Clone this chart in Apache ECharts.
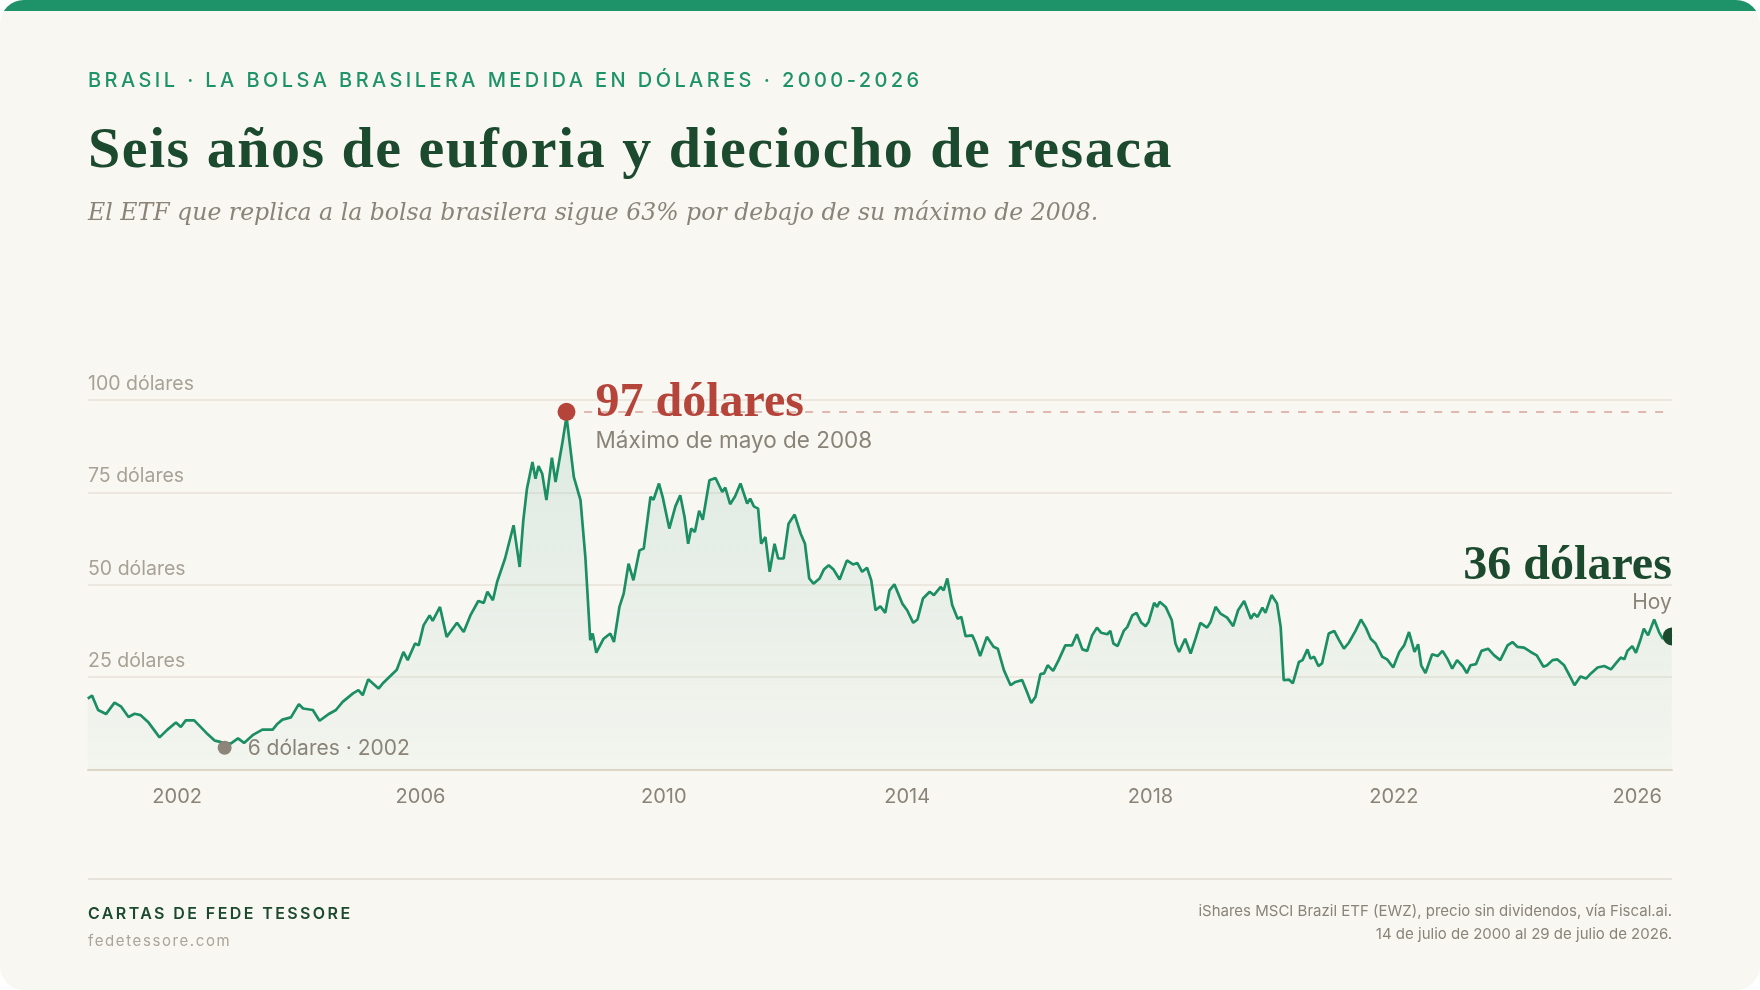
<!DOCTYPE html>
<html lang="es">
<head>
<meta charset="utf-8">
<title>Seis años de euforia y dieciocho de resaca</title>
<script src="https://cdn.jsdelivr.net/npm/echarts@6/dist/echarts.min.js"></script>
<style>
  html, body { margin: 0; padding: 0; background: #ffffff; }
  #card { position: relative; width: 1760px; height: 990px; background: #f8f7f2; border-radius: 24px; overflow: hidden; font-family: Inter, "Noto Sans", sans-serif; }
  #barra { position: absolute; left: 0; top: 0; width: 100%; height: 11px; background: #1e936a; }
  #chart { position: absolute; left: 0; top: 0; width: 1760px; height: 990px; }
  .txt { position: absolute; white-space: nowrap; line-height: 1; }
  #kicker { left: 88px; top: 70px; font-size: 20px; font-weight: 500; letter-spacing: 3.42px; color: #1e936a; }
  #titulo { left: 88px; top: 119px; font-family: "Liberation Serif", serif; font-weight: 700; font-size: 58px; letter-spacing: 1.5px; color: #1b4a2e; }
  #bajada { left: 88px; top: 201px; font-family: "DejaVu Serif", serif; font-style: italic; font-size: 23.6px; color: #8a8478; }
  #linea { position: absolute; left: 88px; top: 878px; width: 1584px; height: 2px; background: #e6e2d9; }
  #firma { left: 88px; top: 905px; font-size: 16px; font-weight: 600; letter-spacing: 2.4px; color: #1b4a2e; }
  #web { left: 88px; top: 933px; font-size: 15px; letter-spacing: 1.6px; color: #aaa499; }
  #fuente { right: 88px; top: 900px; font-size: 15px; color: #8a8478; text-align: right; line-height: 22.5px; }
</style>
</head>
<body>
<div id="card">
  <div id="barra"></div>
  <div id="chart"></div>
  <div id="kicker" class="txt">BRASIL · LA BOLSA BRASILERA MEDIDA EN DÓLARES · 2000-2026</div>
  <div id="titulo" class="txt">Seis años de euforia y dieciocho de resaca</div>
  <div id="bajada" class="txt">El ETF que replica a la bolsa brasilera sigue 63% por debajo de su máximo de 2008.</div>
  <div id="linea"></div>
  <div id="firma" class="txt">CARTAS DE FEDE TESSORE</div>
  <div id="web" class="txt">fedetessore.com</div>
  <div id="fuente" class="txt">iShares MSCI Brazil ETF (EWZ), precio sin dividendos, vía Fiscal.ai.<br>14 de julio de 2000 al 29 de julio de 2026.</div>
</div>
<script>
// fechas en años decimales, precio del EWZ en dólares
var fechas = [
  2000.53, 2000.60, 2000.70, 2000.83, 2000.97, 2001.08, 2001.20, 2001.30, 2001.40, 2001.53,
  2001.71, 2001.84, 2001.98, 2002.06, 2002.14, 2002.28, 2002.48, 2002.62, 2002.77, 2002.88,
  2003.00, 2003.10, 2003.24, 2003.40, 2003.57, 2003.65, 2003.73, 2003.87, 2004.00, 2004.07,
  2004.23, 2004.34, 2004.50, 2004.61, 2004.72, 2004.89, 2004.98, 2005.05, 2005.14, 2005.31,
  2005.39, 2005.61, 2005.72, 2005.79, 2005.91, 2005.97, 2006.05, 2006.15, 2006.20, 2006.32,
  2006.43, 2006.51, 2006.60, 2006.71, 2006.82, 2006.95, 2007.04, 2007.10, 2007.19, 2007.26,
  2007.39, 2007.53, 2007.63, 2007.69, 2007.75, 2007.84, 2007.89, 2007.94, 2008.00, 2008.07,
  2008.16, 2008.22, 2008.33, 2008.40, 2008.52, 2008.63, 2008.71, 2008.79, 2008.83, 2008.89,
  2009.01, 2009.12, 2009.18, 2009.27, 2009.34, 2009.42, 2009.50, 2009.60, 2009.67, 2009.78,
  2009.83, 2009.92, 2009.98, 2010.09, 2010.19, 2010.27, 2010.34, 2010.40, 2010.45, 2010.51,
  2010.58, 2010.64, 2010.75, 2010.85, 2010.96, 2011.01, 2011.09, 2011.17, 2011.26, 2011.37,
  2011.42, 2011.48, 2011.55, 2011.60, 2011.67, 2011.74, 2011.82, 2011.88, 2011.97, 2012.05,
  2012.15, 2012.25, 2012.32, 2012.39, 2012.46, 2012.56, 2012.63, 2012.71, 2012.79, 2012.89,
  2013.01, 2013.11, 2013.18, 2013.26, 2013.34, 2013.41, 2013.48, 2013.56, 2013.64, 2013.71,
  2013.79, 2013.92, 2014.00, 2014.10, 2014.17, 2014.26, 2014.37, 2014.44, 2014.55, 2014.60,
  2014.66, 2014.74, 2014.83, 2014.89, 2014.96, 2015.07, 2015.12, 2015.20, 2015.31, 2015.42,
  2015.49, 2015.59, 2015.70, 2015.78, 2015.89, 2015.97, 2016.04, 2016.11, 2016.19, 2016.25,
  2016.31, 2016.40, 2016.49, 2016.60, 2016.71, 2016.79, 2016.88, 2016.96, 2017.04, 2017.12,
  2017.19, 2017.29, 2017.34, 2017.39, 2017.46, 2017.56, 2017.62, 2017.70, 2017.77, 2017.85,
  2017.92, 2017.97, 2018.06, 2018.11, 2018.15, 2018.25, 2018.35, 2018.41, 2018.47, 2018.57,
  2018.66, 2018.74, 2018.82, 2018.93, 2018.99, 2019.07, 2019.15, 2019.26, 2019.36, 2019.44,
  2019.54, 2019.65, 2019.70, 2019.76, 2019.84, 2019.89, 2019.99, 2020.08, 2020.14, 2020.19,
  2020.28, 2020.34, 2020.44, 2020.50, 2020.58, 2020.63, 2020.69, 2020.76, 2020.82, 2020.93,
  2021.02, 2021.10, 2021.18, 2021.26, 2021.37, 2021.46, 2021.54, 2021.62, 2021.70, 2021.81,
  2021.89, 2021.99, 2022.09, 2022.17, 2022.25, 2022.34, 2022.40, 2022.45, 2022.52, 2022.63,
  2022.72, 2022.80, 2022.88, 2022.96, 2023.04, 2023.13, 2023.20, 2023.26, 2023.35, 2023.44,
  2023.55, 2023.65, 2023.75, 2023.87, 2023.95, 2024.03, 2024.14, 2024.25, 2024.35, 2024.46,
  2024.52, 2024.61, 2024.69, 2024.80, 2024.90, 2024.97, 2025.07, 2025.16, 2025.24, 2025.35,
  2025.46, 2025.57, 2025.65, 2025.73, 2025.79, 2025.84, 2025.92, 2025.98, 2026.06, 2026.11,
  2026.18, 2026.28, 2026.36, 2026.42, 2026.50, 2026.57
];
var precios = [
  19.2, 20.0, 16.1, 15.0, 18.1, 17.0, 14.2, 15.1, 14.7, 12.7,
  8.7, 10.8, 12.7, 11.5, 13.3, 13.3, 9.9, 7.8, 7.2, 7.0,
  8.4, 7.2, 9.3, 10.8, 10.8, 12.4, 13.5, 14.1, 17.7, 16.5,
  16.1, 13.2, 15.1, 16.1, 18.3, 20.6, 21.5, 20.1, 24.4, 21.9,
  23.5, 27.0, 31.8, 29.6, 34.1, 33.6, 39.0, 41.7, 40.2, 44.0,
  35.9, 37.7, 39.7, 37.2, 41.7, 45.6, 45.1, 48.1, 45.8, 50.8,
  57.1, 66.1, 54.8, 67.4, 76.0, 83.2, 78.7, 82.1, 80.1, 72.9,
  84.4, 77.8, 88.2, 95.5, 79.2, 72.9, 57.5, 35.0, 36.8, 31.6,
  35.4, 36.8, 34.5, 44.0, 47.6, 55.7, 51.2, 59.3, 59.8, 73.8,
  73.0, 77.4, 73.8, 65.2, 71.2, 74.2, 68.4, 61.1, 65.2, 64.3,
  70.0, 67.6, 78.3, 78.9, 75.1, 76.3, 71.8, 73.9, 77.4, 72.0,
  73.3, 71.2, 70.6, 61.1, 62.9, 53.5, 61.1, 57.1, 57.1, 66.5,
  69.0, 63.8, 61.1, 51.7, 50.3, 51.7, 54.1, 55.3, 54.1, 51.4,
  56.6, 55.5, 55.9, 53.5, 54.6, 51.2, 43.1, 44.2, 42.4, 48.5,
  50.1, 44.9, 43.1, 39.7, 40.6, 46.3, 48.1, 47.2, 49.4, 48.5,
  51.7, 44.5, 40.8, 41.3, 36.1, 36.3, 34.5, 30.7, 35.9, 33.2,
  32.7, 26.9, 22.8, 23.7, 24.2, 21.0, 18.0, 19.7, 25.8, 26.0,
  28.2, 26.7, 29.6, 33.6, 33.6, 36.6, 32.5, 32.1, 36.3, 38.4,
  37.0, 36.6, 37.5, 34.1, 33.4, 37.5, 38.6, 41.7, 42.4, 39.7,
  38.8, 40.0, 45.1, 44.0, 45.4, 44.0, 40.4, 34.1, 31.8, 35.4,
  31.4, 35.4, 39.7, 38.4, 40.0, 44.0, 42.2, 41.1, 38.8, 43.1,
  45.6, 40.8, 42.2, 41.3, 43.8, 42.4, 47.2, 44.9, 38.6, 24.2,
  24.3, 23.3, 29.1, 29.6, 32.5, 30.0, 30.5, 28.0, 28.7, 36.8,
  37.5, 35.0, 32.7, 34.3, 37.5, 40.6, 38.4, 35.4, 34.1, 30.5,
  29.8, 27.6, 31.8, 33.6, 37.2, 31.8, 33.9, 28.2, 26.1, 31.2,
  30.7, 32.1, 30.0, 27.3, 29.6, 28.0, 26.1, 28.2, 28.5, 32.1,
  32.7, 30.9, 29.6, 33.6, 34.5, 33.2, 33.0, 31.8, 30.9, 27.8,
  28.2, 29.6, 29.8, 28.2, 25.1, 22.8, 25.2, 24.6, 26.0, 27.6,
  28.0, 27.1, 28.7, 30.3, 29.8, 32.1, 33.4, 31.6, 35.4, 38.1,
  36.3, 40.6, 37.2, 35.4, 36.5, 36.0
];

// hitos: máximo 2008, mínimo 2002 y hoy
var hitoFechas = [2008.40, 2002.78, 2026.57];
var hitoPrecios = [96.8, 5.9, 36];
var hitoTitulos = ['97 dólares', '6 dólares · 2002', '36 dólares'];
var hitoNotas = ['Máximo de mayo de 2008', '', 'Hoy'];

// ejes
var inicio = 2000.534;   // 14 de julio de 2000
var fin = 2026.573;      // 29 de julio de 2026
var aniosEje = [2002, 2006, 2010, 2014, 2018, 2022, 2026];

var sans = 'Inter, "Noto Sans", sans-serif';
var serif = '"Liberation Serif", serif';

var serie = fechas.map(function (f, i) { return [f, precios[i]]; });
var hitos = hitoFechas.map(function (f, i) { return [f, hitoPrecios[i]]; });
var coloresHito = ['#b5453b', '#8c857a', '#1b4a2e'];
var radiosHito = [9, 7, 9];

var chart = echarts.init(document.getElementById('chart'), null, { renderer: 'canvas' });

var option = {
  animation: false,
  grid: { left: 88, right: 88, top: 400, height: 369.5 },
  xAxis: {
    type: 'value',
    min: inicio,
    max: fin,
    axisLine: { show: true, lineStyle: { color: '#ddd6c9', width: 2 } },
    axisTick: { show: false },
    splitLine: { show: false },
    axisLabel: {
      customValues: aniosEje,
      formatter: function (v) { return String(Math.round(v)); },
      color: '#8a8478',
      fontSize: 20,
      fontFamily: sans,
      margin: 17
    }
  },
  yAxis: {
    type: 'value',
    min: 0,
    max: 100,
    interval: 25,
    axisLine: { show: false },
    axisTick: { show: false },
    splitLine: { lineStyle: { color: '#e8e3da', width: 1.5 } },
    axisLabel: {
      inside: true,
      margin: 0,
      verticalAlign: 'bottom',
      padding: [0, 0, 6, 0],
      color: '#a8a296',
      fontSize: 19.5,
      fontFamily: sans,
      formatter: function (v) { return v === 0 ? '' : v + ' dólares'; }
    }
  },
  series: [
    {
      name: 'EWZ',
      type: 'line',
      data: serie,
      showSymbol: false,
      lineStyle: { color: '#1c8e64', width: 2.7 },
      itemStyle: { color: '#1c8e64' },
      areaStyle: {
        color: {
          type: 'linear', x: 0, y: 0, x2: 0, y2: 1,
          colorStops: [
            { offset: 0, color: 'rgba(30,145,105,0.17)' },
            { offset: 1, color: 'rgba(30,145,105,0.03)' }
          ]
        }
      },
      markLine: {
        silent: true,
        symbol: 'none',
        label: { show: false },
        lineStyle: { color: '#d6a59c', width: 1.5, type: [8, 9] },
        data: [[{ coord: [hitoFechas[0] + 0.29, hitoPrecios[0]] }, { coord: [fin, hitoPrecios[0]] }]]
      }
    },
    {
      // puntos de los hitos, recortados al área del gráfico
      name: 'puntos',
      type: 'custom',
      clip: true,
      data: hitos,
      z: 5,
      renderItem: function (params, api) {
        var p = api.coord([api.value(0), api.value(1)]);
        var i = params.dataIndex;
        return {
          type: 'circle',
          shape: { cx: p[0], cy: p[1], r: radiosHito[i] },
          style: { fill: coloresHito[i] }
        };
      }
    },
    {
      // rótulos de los hitos
      name: 'rotulos',
      type: 'custom',
      clip: false,
      data: hitos,
      z: 6,
      renderItem: function (params, api) {
        var p = api.coord([api.value(0), api.value(1)]);
        var i = params.dataIndex;
        if (i === 0) {
          return {
            type: 'group',
            children: [
              { type: 'text', x: p[0] + 29, y: p[1] - 8,
                style: { text: hitoTitulos[0], fill: coloresHito[0], fontFamily: serif, fontWeight: 'bold', fontSize: 48, align: 'left', verticalAlign: 'middle' } },
              { type: 'text', x: p[0] + 29, y: p[1] + 29,
                style: { text: hitoNotas[0], fill: '#8a8478', fontFamily: sans, fontSize: 22.5, align: 'left', verticalAlign: 'middle' } }
            ]
          };
        }
        if (i === 1) {
          return { type: 'text', x: p[0] + 23, y: p[1] + 1,
            style: { text: hitoTitulos[1], fill: '#8a8478', fontFamily: sans, fontSize: 21, align: 'left', verticalAlign: 'middle' } };
        }
        return {
          type: 'group',
          children: [
            { type: 'text', x: p[0], y: p[1] - 70,
              style: { text: hitoTitulos[2], fill: coloresHito[2], fontFamily: serif, fontWeight: 'bold', fontSize: 48, align: 'right', verticalAlign: 'middle' } },
            { type: 'text', x: p[0], y: p[1] - 34,
              style: { text: hitoNotas[2], fill: '#8a8478', fontFamily: sans, fontSize: 21, align: 'right', verticalAlign: 'middle' } }
          ]
        };
      }
    }
  ]
};

chart.setOption(option);
</script>
</body>
</html>
